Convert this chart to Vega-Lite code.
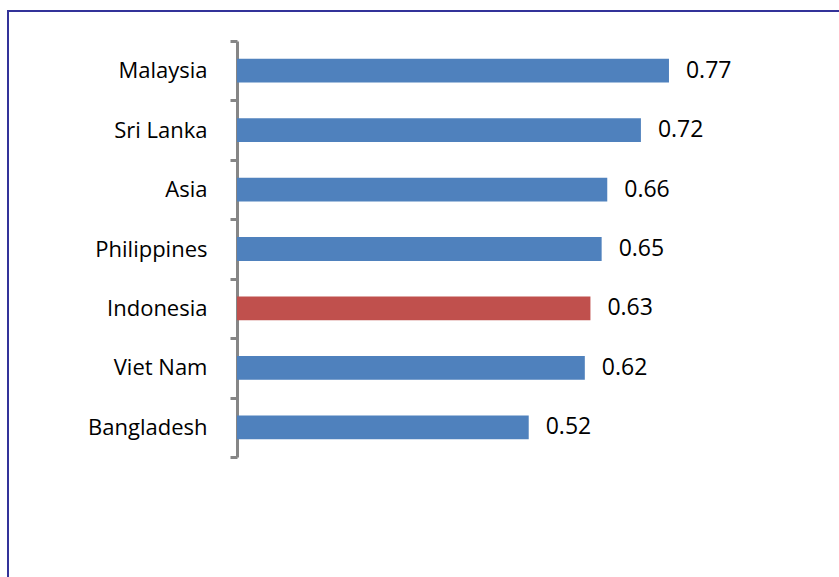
{
  "$schema": "https://vega.github.io/schema/vega-lite/v6.json",
  "autosize": {"type": "none"},
  "padding": {"left": 8, "top": 11, "right": 0, "bottom": 0},
  "width": 900,
  "height": 600,
  "background": "white",
  "config": {
    "view": {"stroke": "#333399", "strokeWidth": 2},
    "font": "Open Sans"
  },
  "data": {
    "values": [
      {"Country": "Malaysia", "Value": 0.77},
      {"Country": "Sri Lanka", "Value": 0.72},
      {"Country": "Asia", "Value": 0.66},
      {"Country": "Philippines", "Value": 0.65},
      {"Country": "Indonesia", "Value": 0.63},
      {"Country": "Viet Nam", "Value": 0.62},
      {"Country": "Bangladesh", "Value": 0.52}
    ]
  },
  "encoding": {
    "y": {
      "field": "Country",
      "type": "nominal",
      "sort": null,
      "scale": {"range": [30, 446], "paddingInner": 0, "paddingOuter": 0},
      "axis": {
        "title": null,
        "offset": -229,
        "domainColor": "#868686",
        "domainWidth": 3,
        "tickColor": "#868686",
        "tickWidth": 3,
        "tickSize": 7,
        "tickBand": "extent",
        "labelPadding": 23,
        "labelFontSize": 22,
        "labelColor": "#000000",
        "labelFont": "Open Sans"
      }
    },
    "x": {
      "field": "Value",
      "type": "quantitative",
      "scale": {"domain": [0, 1], "range": [229, 790]},
      "axis": null
    }
  },
  "layer": [
    {
      "mark": {"type": "bar", "height": {"band": 0.4}},
      "encoding": {
        "color": {
          "condition": {"test": "datum.Country === 'Indonesia'", "value": "#C0504D"},
          "value": "#4F81BD"
        }
      }
    },
    {
      "mark": {"type": "text", "align": "left", "baseline": "middle", "dx": 17, "fontSize": 23, "color": "#000000", "font": "Open Sans"},
      "encoding": {
        "text": {"field": "Value", "type": "quantitative", "format": ".2f"}
      }
    }
  ]
}
